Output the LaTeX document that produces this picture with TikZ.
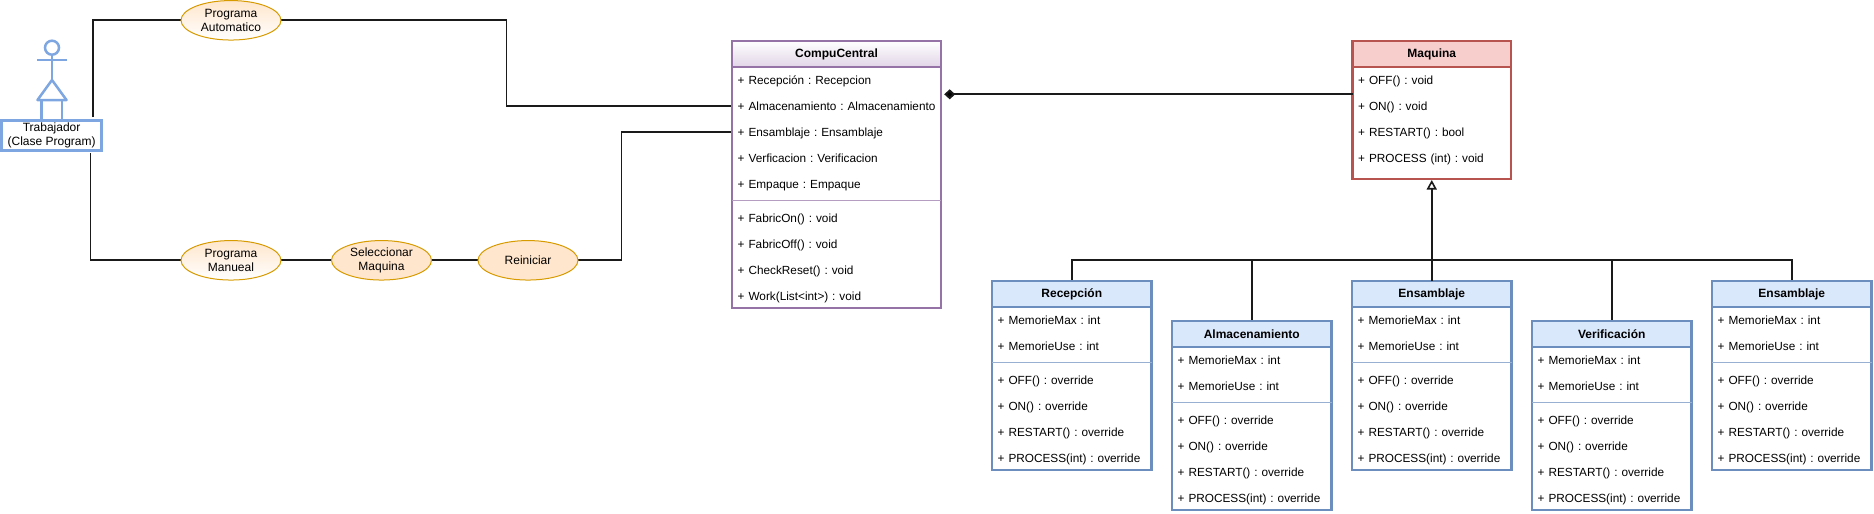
\documentclass[tikz,border=0pt]{standalone}
\usepackage{fontspec}
\setmainfont{Liberation Sans}
\usetikzlibrary{calc,shapes.geometric,arrows.meta}
\definecolor{purpleln}{HTML}{9673A6}
\definecolor{purplefl}{HTML}{E1D5E7}
\definecolor{redln}{HTML}{B85450}
\definecolor{redfl}{HTML}{F8CECC}
\definecolor{blueln}{HTML}{6C8EBF}
\definecolor{bluefl}{HTML}{DAE8FC}
\definecolor{actorln}{HTML}{7EA6E0}
\definecolor{orangeln}{HTML}{D79B00}
\definecolor{orangefl}{HTML}{FFE6CC}
\definecolor{connln}{HTML}{1A1A1A}
\pgfdeclarelayer{conns}
\pgfsetlayers{conns,main}
\frenchspacing
\tikzset{
  classframe/.style={draw=#1,line width=2.7pt,fill=white,inner sep=0pt,outer sep=0pt,anchor=north west},
  classhead/.style={draw=#1,line width=2.7pt,inner sep=0pt,outer sep=0pt,anchor=north west,minimum height=26pt,font=\fontsize{12}{14}\selectfont\bfseries},
  rowtext/.style={text width=#1,inner xsep=5.7pt,inner ysep=0pt,outer sep=0pt,anchor=west,text height=10.9pt,text depth=2pt,align=left,font=\fontsize{11.8}{14}\selectfont\frenchspacing},
  usecase/.style={ellipse,draw=orangeln,line width=1pt,inner sep=0pt,outer sep=0pt,minimum width=100pt,minimum height=39.5pt,align=center,font=\fontsize{12}{14}\selectfont},
  actorline/.style={draw=actorln,line width=2.5pt},
  conn/.style={draw=connln,line width=1.9pt},
  sepline/.style={draw=#1,line width=0.8pt},
}
\newcommand{\umlrow}[5]{\node[rowtext=#4] (#1) at ($(#2.north west)+(0,-#3)$) {#5};}
\newcommand{\umlsep}[3]{\draw[sepline=#3] ($(#1.north west)+(0,-#2)$) -- ($(#1.north east)+(0,-#2)$);}
\newcommand{\umlkid}[4]{%
  \node[classframe=blueln,minimum width=159.5pt,minimum height=189pt] (#1) at (#2,#3) {};
  \node[classhead=blueln,fill=bluefl,minimum width=159.5pt] (#1H) at (#1.north west) {#4};
  \umlrow{#1A}{#1}{38.7}{159.5pt}{+ MemorieMax : int}
  \umlrow{#1B}{#1}{64.7}{159.5pt}{+ MemorieUse : int}
  \umlsep{#1}{81.3}{blueln!70}
  \umlrow{#1C}{#1}{98.7}{159.5pt}{+ OFF() : override}
  \umlrow{#1D}{#1}{124.7}{159.5pt}{+ ON() : override}
  \umlrow{#1E}{#1}{150.7}{159.5pt}{+ RESTART() : override}
  \umlrow{#1F}{#1}{176.7}{159.5pt}{+ PROCESS(int) : override}
}
\begin{document}
\begin{tikzpicture}[x=1pt,y=1pt]
\useasboundingbox (0,0) rectangle (1874,-514);

% actor
\draw[actorline] (52,-47.7) circle (7);
\draw[actorline] (52,-54.7) -- (52,-80);
\draw[actorline] (37,-60.2) -- (67,-60.2);
\draw[actorline,line join=round] (52,-80) -- (37.5,-100) -- (66.5,-100) -- cycle;
\draw[actorline] (41.5,-100) -- (41.5,-121);
\draw[actorline] (62,-100) -- (62,-121);
\node[draw=actorln,line width=2.8pt,fill=white,inner sep=0pt,outer sep=0pt,minimum width=100pt,minimum height=30.5pt,align=center,font=\fontsize{12}{14}\selectfont] (trab) at (51.6,-135.5) {Trabajador\\(Clase Program)};

% use cases
\node[usecase,top color=orangefl,bottom color=white] (auto) at (231,-20.3) {Programa\\Automatico};
\node[usecase,top color=orangefl,bottom color=white] (manual) at (231,-260.3) {Programa\\Manueal};
\node[usecase,fill=orangefl] (selec) at (381.5,-260.3) {Seleccionar\\Maquina};
\node[usecase,fill=orangefl] (reini) at (528,-260.3) {Reiniciar};

% CompuCentral
\node[classframe=purpleln,minimum width=209pt,minimum height=267pt] (comp) at (732,-41) {};
\node[classhead=purpleln,top color=white,bottom color=purplefl,minimum width=209pt] (compH) at (comp.north west) {CompuCentral};
\umlrow{compA}{comp}{38.7}{209pt}{+ Recepción : Recepcion}
\umlrow{compB}{comp}{64.7}{209pt}{+ Almacenamiento : Almacenamiento}
\umlrow{compC}{comp}{90.7}{209pt}{+ Ensamblaje : Ensamblaje}
\umlrow{compD}{comp}{116.7}{209pt}{+ Verficacion : Verificacion}
\umlrow{compE}{comp}{142.7}{209pt}{+ Empaque : Empaque}
\umlsep{comp}{159.3}{purpleln!70}
\umlrow{compF}{comp}{176.7}{209pt}{+ FabricOn() : void}
\umlrow{compG}{comp}{202.7}{209pt}{+ FabricOff() : void}
\umlrow{compH2}{comp}{228.7}{209pt}{+ CheckReset() : void}
\umlrow{compI}{comp}{254.7}{209pt}{+ Work(List<int>) : void}

% Maquina
\node[classframe=redln,minimum width=158.5pt,minimum height=138pt] (maq) at (1352.5,-41) {};
\node[classhead=redln,fill=redfl,minimum width=158.5pt] (maqH) at (maq.north west) {Maquina};
\umlrow{maqA}{maq}{38.7}{158.5pt}{+ OFF() : void}
\umlrow{maqB}{maq}{64.7}{158.5pt}{+ ON() : void}
\umlrow{maqC}{maq}{90.7}{158.5pt}{+ RESTART() : bool}
\umlrow{maqD}{maq}{116.7}{158.5pt}{+ PROCESS (int) : void}

% subclasses
\umlkid{rec}{992}{-281}{Recepción}
\umlkid{alm}{1172}{-321}{Almacenamiento}
\umlkid{ens}{1352}{-281}{Ensamblaje}
\umlkid{ver}{1532}{-321}{Verificación}
\umlkid{emp}{1712}{-281}{Ensamblaje}

% helper points
\coordinate (trabTop) at (93.3,-117);
\coordinate (trabBot) at (90.5,-153.3);
\coordinate (vAuto) at (506.5,-100);
\coordinate (vReini) at (621.5,-200);
\coordinate (diamTip) at (944.2,-94.3);
\coordinate (bus) at (1431.5,-260);

\begin{pgfonlayer}{conns}
\draw[conn] (trabTop) -- (trabTop |- auto.west) -- (auto.west);
\draw[conn] (trabBot) -- (trabBot |- manual.west) -- (manual.west);
\draw[conn] (auto.east) -- (auto.east -| vAuto) -- (vAuto |- compB.west) -- (compB.west);
\draw[conn] (manual.east) -- (selec.west);
\draw[conn] (selec.east) -- (reini.west);
\draw[conn] (reini.east) -- (reini.east -| vReini) -- (vReini |- compC.west) -- (compC.west);
\foreach \kid in {rec,alm,ver,emp}{
  \draw[conn] (\kid.north) -- (\kid.north |- bus) -- (bus);
}
\end{pgfonlayer}
\draw[conn,-{Diamond[length=11pt,width=10pt,fill=black]}] (diamTip -| maq.west) -- (diamTip);
\draw[conn,line width=2.3pt,shorten >=1pt,-{Triangle[open,length=9.5pt,width=10pt,line width=1.6pt,fill=white]}] (ens.north) -- (maq.south);
\end{tikzpicture}
\end{document}
